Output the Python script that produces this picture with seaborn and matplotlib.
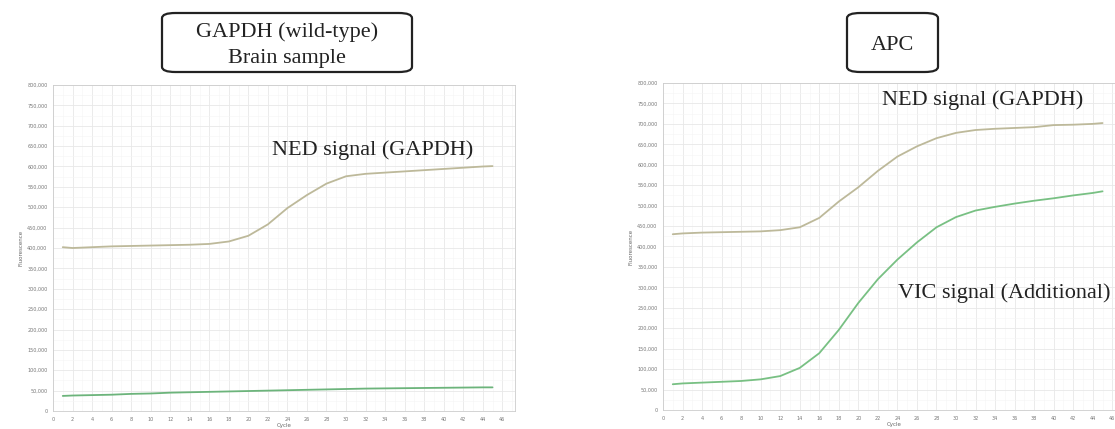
import pandas as pd
import matplotlib.pyplot as plt
import seaborn as sns
from matplotlib.patches import FancyBboxPatch
from matplotlib.ticker import FuncFormatter, MultipleLocator

# cycles
cycles = [1, 2, 4, 6, 8, 10, 12, 14, 16, 18, 20, 22, 24, 26, 28, 30, 32, 34, 36, 38, 40, 42, 44, 45]

# GAPDH (wild-type) brain sample
gapdh_ned = [402000, 400000, 402000, 404000, 405000, 406000, 407000, 408000, 410000, 416000, 430000, 458000,
             498000, 530000, 558000, 576000, 582000, 585000, 588000, 591000, 594000, 597000, 600000, 601000]
gapdh_vic = [37000, 38000, 39000, 40000, 42000, 43000, 45000, 46000, 47000, 48000, 49000, 50000,
             51000, 52000, 53000, 54000, 55000, 55500, 56000, 56500, 57000, 57500, 58000, 58000]

# APC
apc_ned = [430000, 432000, 434000, 435000, 436000, 437000, 440000, 447000, 470000, 510000, 545000, 585000,
           620000, 645000, 665000, 678000, 685000, 688000, 690000, 692000, 697000, 698000, 700000, 702000]
apc_vic = [63000, 65000, 67000, 69000, 71000, 75000, 83000, 103000, 139000, 196000, 262000, 320000,
           368000, 410000, 447000, 472000, 488000, 497000, 505000, 512000, 518000, 525000, 531000, 535000]

x_ticks = list(range(0, 48, 2))
y_ticks = list(range(0, 800001, 50000))

sns.set_style("white")
serif = ["Liberation Serif", "DejaVu Serif"]

fig = plt.figure(figsize=(11.15, 4.29), dpi=100)
W, H = 1115, 429
ax1 = fig.add_axes([53 / W, (H - 411) / H, 462 / W, 326 / H])
ax2 = fig.add_axes([663 / W, (H - 410) / H, 462 / W, 327 / H])

ned_color = "#bdb99a"
vic_color = "#78c083"

for ax, ned, vic, vic_col in [(ax1, gapdh_ned, gapdh_vic, "#6cb47b"), (ax2, apc_ned, apc_vic, vic_color)]:
    df = pd.DataFrame({
        "Cycle": cycles * 2,
        "Fluorescence": ned + vic,
        "dye": ["NED"] * len(cycles) + ["VIC"] * len(cycles),
    })
    sns.lineplot(data=df, x="Cycle", y="Fluorescence", hue="dye",
                 palette={"NED": ned_color, "VIC": vic_col}, linewidth=1.3,
                 legend=False, ax=ax)
    ax.set_xlim(0, 47.3)
    ax.set_ylim(0, 800000)
    ax.set_xticks(x_ticks)
    ax.set_yticks(y_ticks)
    ax.xaxis.set_minor_locator(MultipleLocator(1))
    ax.yaxis.set_minor_locator(MultipleLocator(25000))
    ax.yaxis.set_major_formatter(FuncFormatter(lambda v, p: f"{int(v):,}"))
    ax.grid(True, which="major", color="#e8e8e8", linewidth=0.6)
    ax.grid(True, which="minor", color="#f5f5f5", linewidth=0.4)
    ax.set_axisbelow(True)
    ax.tick_params(axis="both", which="major", labelsize=3.5, labelcolor="#777777",
                   length=2, width=0.4, color="#aaaaaa", pad=2)
    ax.tick_params(axis="both", which="minor", length=0)
    for s in ax.spines.values():
        s.set_color("#cccccc")
        s.set_linewidth(0.6)
    ax.set_xlabel("Cycle", fontsize=4, color="#666666", labelpad=1)
    ax.set_ylabel("Fluorescence", fontsize=4, color="#666666", labelpad=3)

# signal labels
ax1.text(32.7, 640000, "NED signal (GAPDH)", ha="center", va="center", fontsize=16, family=serif, color="#222222")
ax2.text(32.7, 758000, "NED signal (GAPDH)", ha="center", va="center", fontsize=16, family=serif, color="#222222")
ax2.text(34.9, 286000, "VIC signal (Additional)", ha="center", va="center", fontsize=16, family=serif, color="#222222")

# rounded title boxes
for x0, x1, lines in [(162, 412, "GAPDH (wild-type)\nBrain sample"), (847, 938, "APC")]:
    box = FancyBboxPatch((x0 / W, (H - 72) / H), (x1 - x0) / W, (72 - 13) / H,
                         boxstyle="round,pad=0,rounding_size=0.012", transform=fig.transFigure,
                         facecolor="white", edgecolor="#222222", linewidth=1.6)
    fig.patches.append(box)
    fig.text((x0 + x1) / 2 / W, (H - 45) / H, lines, ha="center", va="center",
             fontsize=16, family=serif, color="#222222", linespacing=1.45)

fig.savefig("out.png", dpi=100)
